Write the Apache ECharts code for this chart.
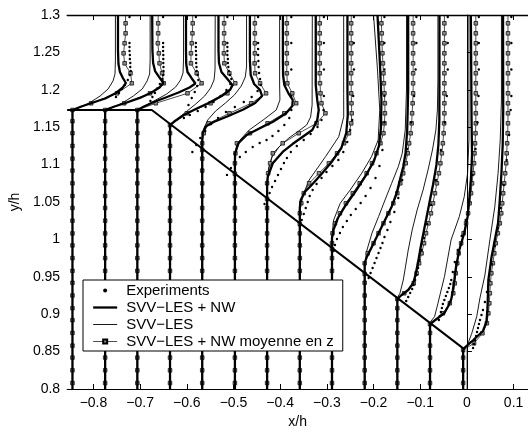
<!DOCTYPE html>
<html><head><meta charset="utf-8">
<script src="https://cdn.jsdelivr.net/npm/echarts@6/dist/echarts.min.js"></script>
<style>html,body{margin:0;padding:0;background:#fff}#c{width:528px;height:436px}</style>
</head><body><div id="c"></div>
<script>
// ---- data ----
const X_TICKS = [-0.8,-0.7,-0.6,-0.5,-0.4,-0.3,-0.2,-0.1,0,0.1];
const STATION_X = [-0.845,-0.775,-0.706,-0.636,-0.567,-0.497,-0.428,-0.358,-0.289,-0.219,-0.149,-0.079,-0.008];
const WALL_Y = [1.173,1.173,1.173,1.1529,1.1195,1.0875,1.054,1.0206,0.9872,0.9538,0.9203,0.8869,0.8521];
const U_SCALE = 0.1; // x/h offset per unit of U/Uref
const WALL = [[-0.8564,1.173],[-0.675,1.173],[-0.005,0.853]];
const SOLID_MARK_Y = [0.808,0.825,0.842,0.858,0.875,0.892,0.908,0.925,0.942,0.958,0.975,0.992,1.008,1.025,1.042,1.058,1.075,1.092,1.108,1.125,1.142,1.158];

const NW = [
[[0,0.8],[0,1.173],[0.19,1.1777],[0.445,1.183],[0.70,1.1884],[0.932,1.1957],[1.08,1.2031],[1.144,1.2091],[1.08,1.2158],[1.017,1.2238],[0.985,1.2345],[0.975,1.2532],[0.975,1.3]],
[[0,0.8],[0,1.173],[0.20,1.1777],[0.466,1.183],[0.742,1.1891],[0.996,1.1964],[1.165,1.2031],[1.25,1.2091],[1.165,1.2164],[1.07,1.2251],[1.028,1.2358],[1.013,1.2532],[1.008,1.3]],
[[0,0.8],[0,1.173],[0.142,1.1777],[0.354,1.1837],[0.608,1.1897],[0.883,1.1964],[1.117,1.2031],[1.244,1.2084],[1.159,1.2158],[1.074,1.2238],[1.047,1.2345],[1.042,1.2532],[1.042,1.3]],
[[0,0.8],[0,1.1529],[0.106,1.1583],[0.297,1.1663],[0.551,1.1743],[0.826,1.1824],[1.102,1.1917],[1.292,1.2004],[1.335,1.2064],[1.229,1.2144],[1.102,1.2238],[1.049,1.2358],[1.038,1.2532],[1.038,1.3]],
[[0,0.8],[0,1.1195],[0,1.1329],[0.011,1.1422],[0.074,1.1509],[0.244,1.1569],[0.561,1.165],[0.879,1.1737],[1.133,1.1824],[1.282,1.1917],[1.239,1.1997],[1.112,1.2078],[1.038,1.2198],[1.021,1.2398],[1.021,1.3]],
[[0,0.8],[0,1.0875],[0,1.1035],[0.004,1.1151],[0.074,1.1285],[0.25,1.1396],[0.534,1.1486],[0.816,1.1574],[1.097,1.1686],[1.229,1.1784],[1.239,1.1864],[1.144,1.1957],[1.059,1.2064],[1.032,1.2198],[1.028,1.2398],[1.028,1.3]],
[[0,0.8],[0,1.054],[0,1.0728],[0.015,1.0838],[0.121,1.1018],[0.333,1.1169],[0.544,1.1275],[0.756,1.1369],[0.968,1.1463],[1.074,1.1596],[1.106,1.173],[1.074,1.1864],[1.042,1.2064],[1.042,1.3]],
[[0,0.8],[0,1.0206],[0,1.042],[0.021,1.0527],[0.106,1.0634],[0.254,1.0728],[0.466,1.0875],[0.699,1.1049],[0.89,1.1222],[0.996,1.1423],[1.028,1.1663],[1.021,1.1997],[1.021,1.3]],
[[0,0.8],[0,0.9872],[0,1.0019],[0.032,1.0126],[0.127,1.0286],[0.297,1.046],[0.508,1.0647],[0.72,1.0848],[0.90,1.1049],[1.006,1.1249],[1.049,1.149],[1.059,1.1864],[1.028,1.2332],[0.975,1.3]],
[[0,0.8],[0,0.9538],[0,0.9685],[0.049,0.9769],[0.155,0.9903],[0.297,1.0082],[0.436,1.0259],[0.578,1.0437],[0.684,1.0617],[0.754,1.0794],[0.826,1.0972],[0.875,1.1151],[0.911,1.1463],[0.932,1.1997],[0.932,1.3]],
[[0,0.8],[0,0.9203],[0.021,0.9223],[0.091,0.9257],[0.233,0.9324],[0.339,0.9413],[0.388,0.9524],[0.445,0.9698],[0.508,0.9925],[0.593,1.0193],[0.678,1.046],[0.763,1.0727],[0.837,1.0995],[0.879,1.1262],[0.90,1.1596],[0.903,1.3]],
[[0,0.8],[0,0.8869],[0.042,0.8889],[0.17,0.8949],[0.309,0.9016],[0.392,0.911],[0.456,0.9203],[0.487,0.931],[0.521,0.9457],[0.557,0.9631],[0.627,0.9858],[0.733,1.0086],[0.805,1.03],[0.839,1.0527],[0.875,1.0794],[0.90,1.1128],[0.89,1.1596],[0.875,1.3]],
[[0,0.8],[0,0.8521],[0.021,0.8548],[0.218,0.8655],[0.424,0.8775],[0.498,0.8896],[0.519,0.9056],[0.53,0.9257],[0.54,0.9457],[0.608,0.9765],[0.678,0.9992],[0.748,1.0219],[0.784,1.0527],[0.82,1.0888],[0.847,1.1262],[0.858,1.173],[0.854,1.3]]
];

const LES = [
[[0,0.8],[0,1.173],[0.148,1.1763],[0.36,1.1824],[0.593,1.1917],[0.763,1.2011],[0.869,1.2118],[0.911,1.2211],[0.92,1.2398],[0.92,1.3]],
[[0,0.8],[0,1.173],[0.159,1.1763],[0.371,1.1824],[0.604,1.1917],[0.795,1.2011],[0.90,1.2118],[0.953,1.2211],[0.964,1.2398],[0.964,1.3]],
[[0,0.8],[0,1.173],[0.163,1.1784],[0.396,1.1864],[0.629,1.1944],[0.82,1.2037],[0.926,1.2131],[0.979,1.2225],[0.989,1.2398],[0.989,1.3]],
[[0,0.8],[0,1.1529],[0.127,1.1596],[0.339,1.1703],[0.551,1.181],[0.742,1.1917],[0.869,1.2024],[0.943,1.2131],[0.964,1.2265],[0.968,1.3]],
[[0,0.8],[0,1.1195],[0,1.1329],[0.021,1.1463],[0.117,1.1596],[0.286,1.1716],[0.498,1.1824],[0.689,1.1931],[0.837,1.2051],[0.922,1.2171],[0.949,1.2305],[0.949,1.3]],
[[0,0.8],[0,1.0875],[0,1.1062],[0.032,1.1195],[0.11,1.1329],[0.307,1.1463],[0.604,1.1596],[0.886,1.173],[0.964,1.1864],[0.958,1.2064],[0.958,1.3]],
[[0,0.8],[0,1.054],[0,1.0794],[0.032,1.0955],[0.106,1.1102],[0.254,1.1236],[0.466,1.1356],[0.678,1.1449],[0.847,1.1529],[0.932,1.1636],[0.964,1.1797],[0.968,1.3]],
[[0,0.8],[0,1.0206],[0,1.0393],[0.042,1.0553],[0.2,1.0794],[0.551,1.1106],[0.835,1.1373],[0.941,1.164],[0.94,1.1953],[0.94,1.3]],
[[0,0.8],[0,0.9872],[0,1.0059],[0.036,1.0259],[0.176,1.0483],[0.388,1.066],[0.636,1.0884],[0.847,1.1106],[0.989,1.1329],[1.023,1.173],[0.975,1.2265],[0.89,1.3]],
[[0,0.8],[0,0.9538],[0,0.9658],[0.049,0.9858],[0.155,1.0082],[0.297,1.0304],[0.436,1.0527],[0.578,1.075],[0.72,1.0972],[0.805,1.1151],[0.869,1.1463],[0.896,1.1997],[0.896,1.3]],
[[0,0.8],[0,0.9203],[0.021,0.9243],[0.055,0.9279],[0.127,0.9457],[0.17,0.9618],[0.233,0.9858],[0.318,1.0126],[0.424,1.0393],[0.551,1.066],[0.657,1.0928],[0.752,1.1195],[0.826,1.1463],[0.858,1.173],[0.869,1.2131],[0.869,1.3]],
[[0,0.8],[0,0.8869],[0.021,0.8909],[0.097,0.8966],[0.17,0.9146],[0.239,0.9324],[0.309,0.9502],[0.451,0.9993],[0.627,1.0304],[0.733,1.0571],[0.805,1.0884],[0.833,1.1329],[0.833,1.3]],
[[0.085,0.8],[0.085,0.8521],[0.1,0.8601],[0.184,0.8744],[0.29,0.8967],[0.36,0.9217],[0.466,0.9524],[0.572,0.9992],[0.678,1.0437],[0.748,1.0884],[0.794,1.1329],[0.82,1.1864],[0.82,1.3]]
];

const MOY = [
[[0,0.8],[0,1.173],[0.40,1.182],[0.953,1.1953],[1.271,1.2087],[1.244,1.2221],[1.117,1.2354],[1.095,1.2488],[1.117,1.2622],[1.138,1.2755],[1.138,1.2889],[1.138,1.3]],
[[0,0.8],[0,1.173],[0.409,1.182],[0.96,1.1953],[1.256,1.2087],[1.22,1.2221],[1.165,1.2354],[1.15,1.2488],[1.129,1.2622],[1.136,1.2755],[1.136,1.2889],[1.136,1.3]],
[[0,0.8],[0,1.173],[0.396,1.182],[1.074,1.1953],[1.377,1.2087],[1.271,1.2221],[1.148,1.2354],[1.148,1.2488],[1.165,1.2622],[1.18,1.2755],[1.186,1.2889],[1.186,1.3]],
[[0,0.8],[0,1.1529],[0.36,1.1686],[0.869,1.182],[1.229,1.1953],[1.398,1.2087],[1.271,1.2221],[1.165,1.2354],[1.155,1.2488],[1.159,1.2622],[1.159,1.2755],[1.159,1.2889],[1.159,1.3]],
[[0,0.8],[0,1.1195],[0,1.1285],[0.032,1.1419],[0.138,1.1552],[0.583,1.1686],[1.049,1.182],[1.367,1.1953],[1.239,1.2087],[1.133,1.2221],[1.123,1.2354],[1.127,1.2488],[1.127,1.2622],[1.127,1.2755],[1.127,1.2889],[1.127,1.3]],
[[0,0.8],[0,1.0875],[0,1.1018],[0.011,1.1151],[0.042,1.1285],[0.322,1.1419],[0.699,1.1552],[1.059,1.1686],[1.314,1.182],[1.229,1.1953],[1.123,1.2087],[1.112,1.2221],[1.112,1.2354],[1.112,1.2488],[1.112,1.2622],[1.112,1.2755],[1.112,1.2889],[1.112,1.3]],
[[0,0.8],[0,1.054],[0,1.075],[0.021,1.0884],[0.064,1.1018],[0.121,1.1151],[0.333,1.1285],[0.678,1.1419],[1.059,1.1552],[1.25,1.1686],[1.165,1.182],[1.144,1.1953],[1.133,1.2087],[1.127,1.2221],[1.127,1.2354],[1.127,1.2488],[1.127,1.2622],[1.127,1.2755],[1.127,1.2889],[1.127,1.3]],
[[0,0.8],[0,1.0206],[0,1.0349],[0.032,1.0483],[0.085,1.0617],[0.2,1.075],[0.411,1.0884],[0.623,1.1018],[0.799,1.1151],[0.947,1.1285],[1.053,1.1419],[1.102,1.1552],[1.112,1.1686],[1.108,1.182],[1.102,1.1953],[1.102,1.2087],[1.102,1.2221],[1.102,1.2354],[1.102,1.2488],[1.102,1.2622],[1.102,1.2755],[1.102,1.2889],[1.102,1.3]],
[[0,0.8],[0,0.9872],[0,0.9948],[0.011,1.0082],[0.064,1.0215],[0.17,1.0349],[0.297,1.0483],[0.445,1.0617],[0.593,1.075],[0.742,1.0884],[0.858,1.1018],[0.953,1.1151],[1.038,1.1285],[1.102,1.1419],[1.123,1.1552],[1.133,1.1686],[1.133,1.182],[1.123,1.1953],[1.112,1.2087],[1.102,1.2221],[1.091,1.2354],[1.08,1.2488],[1.07,1.2622],[1.066,1.2755],[1.059,1.2889],[1.059,1.3]],
[[0,0.8],[0,0.9538],[0,0.9681],[0.064,0.9814],[0.19,0.9948],[0.297,1.0082],[0.403,1.0215],[0.508,1.0349],[0.614,1.0483],[0.699,1.0617],[0.763,1.075],[0.826,1.0884],[0.879,1.1018],[0.922,1.1151],[0.953,1.1285],[0.985,1.1419],[1.006,1.1552],[1.017,1.1686],[1.028,1.182],[1.038,1.1953],[1.038,1.2087],[1.038,1.2221],[1.038,1.2354],[1.038,1.2488],[1.038,1.2622],[1.038,1.2755],[1.038,1.2889],[1.038,1.3]],
[[0,0.8],[0,0.9203],[0.148,0.928],[0.35,0.9413],[0.413,0.9547],[0.466,0.9681],[0.519,0.9814],[0.572,0.9948],[0.614,1.0082],[0.667,1.0215],[0.72,1.0349],[0.763,1.0483],[0.805,1.0617],[0.847,1.075],[0.89,1.0884],[0.922,1.1018],[0.953,1.1151],[0.975,1.1285],[0.992,1.1419],[1.002,1.1552],[1.008,1.1686],[1.008,1.182],[1.008,1.1953],[1.008,1.2087],[1.008,1.2221],[1.008,1.2354],[1.008,1.2488],[1.008,1.2622],[1.008,1.2755],[1.008,1.2889],[1.008,1.3]],
[[0,0.8],[0,0.8869],[0.275,0.9012],[0.424,0.9146],[0.498,0.928],[0.53,0.9413],[0.551,0.9547],[0.583,0.9681],[0.614,0.9814],[0.667,0.9948],[0.72,1.0082],[0.773,1.0215],[0.816,1.0349],[0.847,1.0483],[0.879,1.0617],[0.90,1.075],[0.922,1.0884],[0.943,1.1018],[0.953,1.1151],[0.964,1.1285],[0.975,1.1419],[0.981,1.1552],[0.981,1.1686],[0.981,1.182],[0.981,1.1953],[0.981,1.2087],[0.981,1.2221],[0.981,1.2354],[0.981,1.2488],[0.981,1.2622],[0.981,1.2755],[0.981,1.2889],[0.981,1.3]],
[[0,0.8],[0,0.8521],[0.233,0.8611],[0.413,0.8745],[0.508,0.8879],[0.54,0.9012],[0.561,0.9146],[0.572,0.928],[0.583,0.9413],[0.604,0.9547],[0.636,0.9681],[0.667,0.9814],[0.699,0.9948],[0.742,1.0082],[0.784,1.0215],[0.816,1.0349],[0.837,1.0483],[0.858,1.0617],[0.879,1.075],[0.90,1.0884],[0.922,1.1018],[0.932,1.1151],[0.943,1.1285],[0.953,1.1419],[0.96,1.1552],[0.96,1.1686],[0.96,1.182],[0.96,1.1953],[0.96,1.2087],[0.96,1.2221],[0.96,1.2354],[0.96,1.2488],[0.96,1.2622],[0.96,1.2755],[0.96,1.2889],[0.96,1.3]]
];

const EXP = [
[[1.222,1.2973],[1.222,1.2626],[1.222,1.2572],[1.222,1.2519],[1.229,1.2465],[1.229,1.2412],[1.239,1.2358],[1.239,1.2305],[1.25,1.2251],[1.229,1.2198],[1.186,1.2131],[1.123,1.2064],[1.059,1.2011],[0.996,1.1957],[0.932,1.1904]],
[[1.242,1.2973],[1.242,1.2626],[1.242,1.2572],[1.242,1.2519],[1.246,1.2465],[1.246,1.2412],[1.246,1.2358],[1.25,1.2305],[1.25,1.2251],[1.246,1.2198],[1.225,1.2145],[1.172,1.2078],[1.114,1.2017],[1.066,1.1957],[1.013,1.1904],[0.97,1.185]],
[[1.254,1.2973],[1.254,1.2626],[1.254,1.2572],[1.254,1.2519],[1.26,1.2465],[1.26,1.2412],[1.26,1.2358],[1.267,1.2305],[1.271,1.2251],[1.292,1.2198],[1.307,1.2131],[1.282,1.2051],[1.229,1.1971],[1.165,1.189],[1.095,1.1797]],
[[1.229,1.2973],[1.229,1.2626],[1.229,1.2572],[1.229,1.2519],[1.229,1.2465],[1.239,1.2412],[1.239,1.2358],[1.25,1.2305],[1.26,1.2251],[1.282,1.2198],[1.314,1.2145],[1.292,1.2078],[1.208,1.1997],[1.08,1.1917],[0.932,1.1837],[0.763,1.177],[0.593,1.1716],[0.424,1.1663],[0.297,1.1623]],
[[1.197,1.2973],[1.197,1.2626],[1.197,1.2545],[1.197,1.2465],[1.203,1.2385],[1.208,1.2305],[1.218,1.2225],[1.239,1.2144],[1.25,1.2064],[1.186,1.1984],[1.059,1.1904],[0.89,1.1837],[0.699,1.177],[0.508,1.1703],[0.339,1.1623],[0.19,1.1543],[0.064,1.1449],[-0.042,1.1355],[-0.127,1.1262],[-0.212,1.1168]],
[[-0.17,1.0862],[-0.085,1.0955],[0,1.1035],[0.106,1.1102],[0.233,1.1169],[0.381,1.1236],[0.53,1.1289],[0.678,1.1329],[0.805,1.1383],[0.932,1.1449],[1.059,1.1529],[1.165,1.1623],[1.208,1.173],[1.208,1.1917],[1.208,1.2271],[1.208,1.2626],[1.208,1.2973]],
[[-0.055,1.0474],[0,1.054],[0.053,1.0621],[0.106,1.0701],[0.17,1.0781],[0.233,1.0861],[0.297,1.0941],[0.36,1.1021],[0.424,1.1088],[0.508,1.1169],[0.636,1.1249],[0.784,1.1329],[0.932,1.1409],[1.08,1.1503],[1.165,1.1596],[1.208,1.173],[1.216,1.1917],[1.216,1.2271],[1.216,1.2626],[1.216,1.2973]],
[[0,1.018],[0.042,1.026],[0.085,1.034],[0.127,1.042],[0.17,1.05],[0.212,1.058],[0.275,1.066],[0.36,1.0741],[0.466,1.0821],[0.572,1.0901],[0.699,1.0981],[0.826,1.1061],[0.932,1.1169],[1.017,1.1303],[1.08,1.1463],[1.123,1.1596],[1.144,1.1917],[1.159,1.2271],[1.159,1.2626],[1.159,1.2973]],
[[0.036,0.9845],[0.064,0.9925],[0.106,1.0005],[0.17,1.0086],[0.233,1.0166],[0.318,1.0246],[0.403,1.0326],[0.508,1.0406],[0.614,1.0487],[0.72,1.058],[0.826,1.0687],[0.932,1.0821],[1.017,1.0981],[1.08,1.1195],[1.123,1.1563],[1.123,1.1917],[1.123,1.2271],[1.123,1.2626],[1.123,1.2973]],
[[0.085,0.9484],[0.127,0.9551],[0.17,0.9618],[0.212,0.9685],[0.254,0.9751],[0.297,0.9818],[0.339,0.9885],[0.381,0.9952],[0.424,1.0032],[0.487,1.0126],[0.551,1.0233],[0.636,1.0366],[0.72,1.0553],[0.805,1.0794],[0.911,1.1209],[0.996,1.1563],[1.059,1.1917],[1.091,1.2271],[1.108,1.2626],[1.108,1.2973]],
[[0.19,0.9176],[0.233,0.923],[0.275,0.9283],[0.318,0.9337],[0.35,0.939],[0.381,0.9457],[0.413,0.9524],[0.445,0.9618],[0.477,0.9725],[0.519,0.9858],[0.572,1.0019],[0.636,1.0206],[0.72,1.046],[0.826,1.0794],[0.932,1.1195],[1.017,1.1563],[1.059,1.1917],[1.08,1.2271],[1.08,1.2626],[1.08,1.2973]],
[[0.19,0.8922],[0.212,0.8976],[0.233,0.9029],[0.254,0.9083],[0.275,0.9136],[0.307,0.919],[0.339,0.9243],[0.371,0.9297],[0.403,0.935],[0.434,0.9404],[0.456,0.9457],[0.487,0.9564],[0.53,0.9698],[0.593,0.9858],[0.678,1.0045],[0.763,1.0259],[0.837,1.0527],[0.911,1.0861],[0.975,1.1209],[1.017,1.1563],[1.038,1.1917],[1.045,1.2271],[1.045,1.2626],[1.045,1.2973]],
[[0.212,0.8548],[0.233,0.8601],[0.254,0.8655],[0.275,0.8709],[0.297,0.8762],[0.318,0.8816],[0.339,0.8869],[0.36,0.8922],[0.392,0.8989],[0.424,0.9056],[0.466,0.9163],[0.508,0.9297],[0.551,0.9457],[0.614,0.9671],[0.678,0.9912],[0.742,1.0153],[0.805,1.042],[0.869,1.0728],[0.932,1.1062],[0.985,1.1396],[1.017,1.173],[1.032,1.1917],[1.032,1.2271],[1.032,1.2626],[1.032,1.2973]]
];

const NAMES = {exp:'Experiments', nw:'SVV\u2212LES + NW', les:'SVV\u2212LES', moy:'SVV\u2212LES + NW moyenne en z'};

// ---- chart ----
const X_MIN = -0.8564, X_MAX = 0.1309;
const FONT = 'Liberation Sans';
const toXY = (i, p) => [STATION_X[i] + p[0] * U_SCALE, p[1]];
const series = [];
const W_NW = 2.3, W_LES = 0.9, W_MOY = 0.7;

LES.forEach((prof, i) => series.push({
  type:'line', name:NAMES.les, data:prof.map(p => toXY(i, p)), symbol:'none',
  lineStyle:{color:'#000', width:W_LES}, silent:true, z:2
}));
MOY.forEach((prof, i) => {
  const d = [{value:toXY(i, prof[0]), symbol:'none'}];
  SOLID_MARK_Y.filter(y => y < WALL_Y[i] - 0.006).forEach(y => d.push({value:toXY(i, [0, y])}));
  prof.slice(1).forEach(p => d.push(p[1] >= 1.3 ? {value:toXY(i, p), symbol:'none'} : {value:toXY(i, p)}));
  series.push({
    type:'line', name:NAMES.moy, data:d, symbol:'rect', symbolSize:3.6, showSymbol:true, showAllSymbol:true,
    itemStyle:{color:'#8a8a8a', borderColor:'#000', borderWidth:0.7},
    lineStyle:{color:'#000', width:W_MOY}, silent:true, z:3
  });
});
NW.forEach((prof, i) => series.push({
  type:'line', name:NAMES.nw, data:prof.map(p => toXY(i, p)), symbol:'none',
  lineStyle:{color:'#000', width:W_NW}, silent:true, z:4
}));
EXP.forEach((prof, i) => series.push({
  type:'line', name:NAMES.exp, data:prof.map(p => toXY(i, p)), symbol:'circle', symbolSize:2.4,
  showSymbol:true, showAllSymbol:true, itemStyle:{color:'#000'},
  lineStyle:{width:0, opacity:0}, silent:true, z:5
}));
series.push({
  type:'line', data:WALL, symbol:'none', lineStyle:{color:'#000', width:2}, silent:true, z:6
});

const fmtX = v => Math.abs(v) < 1e-9 ? '0' : (v < 0 ? '\u2212' : '') + Math.abs(v).toFixed(1);

const option = {
  animation:false,
  backgroundColor:'#fff',
  grid:{left:62, right:0, top:15, bottom:47, containLabel:false},
  xAxis:[{
    type:'value', min:X_MIN, max:X_MAX,
    axisLine:{show:true, lineStyle:{color:'#000', width:1}},
    axisTick:{show:true, inside:true, length:5, customValues:X_TICKS, lineStyle:{color:'#000'}},
    axisLabel:{show:true, customValues:X_TICKS, formatter:fmtX, color:'#000', fontSize:14, fontFamily:FONT, margin:7},
    splitLine:{show:false},
    name:'x/h', nameLocation:'middle', nameGap:24,
    nameTextStyle:{color:'#000', fontSize:14, fontFamily:FONT}
  },{
    type:'value', position:'top', min:X_MIN, max:X_MAX,
    axisLine:{show:true, lineStyle:{color:'#000', width:1.3}},
    axisTick:{show:true, inside:true, length:5, customValues:X_TICKS, lineStyle:{color:'#000'}},
    axisLabel:{show:false}, splitLine:{show:false}
  }],
  yAxis:{
    type:'value', min:0.8, max:1.3, interval:0.05,
    axisLine:{show:true, lineStyle:{color:'#000', width:1}},
    axisTick:{show:true, inside:true, length:5, lineStyle:{color:'#000'}},
    axisLabel:{color:'#000', fontSize:14, fontFamily:FONT, margin:7},
    splitLine:{show:false},
    name:'y/h', nameLocation:'middle', nameGap:40,
    nameTextStyle:{color:'#000', fontSize:14, fontFamily:FONT}
  },
  legend:{
    orient:'vertical', left:83, top:280, z:20, selectedMode:false,
    backgroundColor:'#fff', borderColor:'#000', borderWidth:1, borderRadius:0,
    padding:[2, 9, 1, 9], itemGap:0, itemWidth:24, itemHeight:5,
    textStyle:{color:'#000', fontSize:15, fontFamily:FONT, lineHeight:17, padding:[0,0,0,4]},
    data:[
      {name:NAMES.exp, lineStyle:{opacity:0}},
      {name:NAMES.nw, itemStyle:{opacity:0}, lineStyle:{width:W_NW}},
      {name:NAMES.les, itemStyle:{opacity:0}, lineStyle:{width:W_LES}},
      {name:NAMES.moy, lineStyle:{width:W_MOY}}
    ]
  },
  series
};

const chart = echarts.init(document.getElementById('c'), null, {renderer:'canvas'});
chart.setOption(option);
</script>
</body></html>
